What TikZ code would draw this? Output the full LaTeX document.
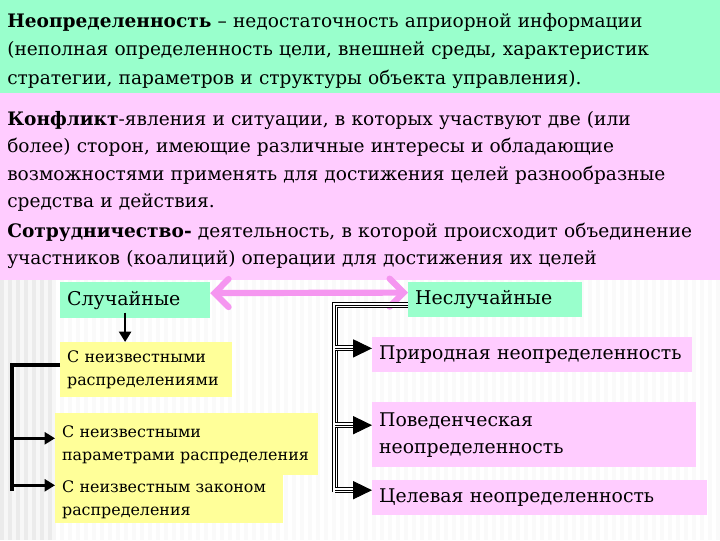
\documentclass[tikz,border=0pt]{standalone}
\usepackage{fontspec}
\setmainfont{DejaVu Serif}
\usepackage{tikz}
\usetikzlibrary{positioning, arrows.meta, calc}
\definecolor{mint}{RGB}{153, 255, 204}
\definecolor{lilac}{RGB}{255, 204, 255}
\definecolor{lemon}{RGB}{255, 255, 153}
\definecolor{arrpink}{RGB}{245, 150, 240}
\tikzset{
  txt/.style={anchor=base west, inner sep=0pt, align=left, text width=19cm,
    font=\fontsize{13.2}{20.6}\selectfont},
  kind/.style={fill=mint, anchor=north west, inner xsep=0.17cm,
    inner ysep=0pt, align=left, font=\fontsize{13.5}{19}\selectfont},
  yel/.style={fill=lemon, anchor=north west, inner xsep=0.17cm,
    inner ysep=0pt, align=left, font=\fontsize{11.3}{16.4}\selectfont},
  pnk/.style={fill=lilac, anchor=north west, inner xsep=0.17cm,
    inner ysep=0pt, align=left, font=\fontsize{13.4}{19}\selectfont},
  brk/.style={draw=black, line width=2.8pt},
  btip/.style={-{Triangle[length=0.26cm, width=0.3cm]}, line width=1.8pt},
  bigtip/.style={-{Triangle[length=0.47cm, width=0.45cm]}, line width=0.7pt},
  tline/.style={line width=0.7pt, preaction={draw, line width=4.3pt},
    preaction={draw=white, line width=2.9pt}},
  twoway/.style={draw=arrpink, line width=4.4pt, line cap=round,
    {Straight Barb[length=0.35cm, width=0.7cm, line cap=round]}-{Straight Barb[length=0.35cm, width=0.7cm, line cap=round]}},
}

\begin{document}
\begin{tikzpicture}[x=0.025cm, y=-0.025cm]
\useasboundingbox (0,0) rectangle (720,540);

% panels
\fill[mint] (0,0) rectangle (720,93);
\fill[lilac] (0,93) rectangle (720,280);
\fill[gray!4] (0,280) rectangle (720,540);
\foreach \x in {0,8,...,712}
  \fill[white] (\x,280) rectangle (\x+4,540);
\fill[gray!16] (0,280) rectangle (55,540);
\foreach \x in {0,8,...,48}
  \fill[gray!6] (\x+4,280) rectangle (\x+8,540);

% definitions
\node[txt] (uncert) at (7,27) {\textbf{Неопределенность} – недостаточность априорной информации\\
(неполная определенность цели, внешней среды, характеристик\\
стратегии, параметров и структуры объекта управления).};
\node[txt, font=\fontsize{13.2}{19.6}\selectfont] (confl) at (7,125) {\textbf{Конфликт}-явления и ситуации, в которых участвуют две (или\\
более) сторон, имеющие различные интересы и обладающие\\
возможностями применять для достижения целей разнообразные\\
средства и действия.};
\node[txt, font=\fontsize{13.2}{19.9}\selectfont] (coop) at (7,237) {\textbf{Сотрудничество-} деятельность, в которой происходит объединение\\
участников (коалиций) операции для достижения их целей};

% kinds
\node[kind, text width=3.4cm, minimum height=0.9cm] (rand) at (60,282) {Случайные};
\node[kind, text width=4.0cm, minimum height=0.875cm] (nonrand) at (408,282) {Неслучайные};

\node[yel, text width=3.95cm, minimum height=1.375cm] (y1) at (60,342) {С неизвестными\\распределениями};
\node[yel, text width=6.225cm, minimum height=1.55cm] (y2) at (55,413) {С неизвестными\\параметрами распределения};
\node[yel, text width=5.35cm, minimum height=1.2cm] (y3) at (55,475) {С неизвестным законом\\распределения};

\node[pnk, text width=7.65cm, minimum height=0.875cm] (p1) at (372,337) {Природная неопределенность};
\node[pnk, text width=7.75cm, minimum height=1.625cm, font=\fontsize{13.4}{19.2}\selectfont] (p2) at (372,402) {Поведенческая\\неопределенность};
\node[pnk, text width=8.025cm, minimum height=0.875cm] (p3) at (372,480) {Целевая неопределенность};

% connectors
\draw[twoway] ([yshift=0.18cm]rand.east) -- ([yshift=0.18cm]nonrand.west);

\coordinate (dn) at ([xshift=-0.25cm]rand.south);
\draw[btip] ([yshift=0.15cm]dn) -- (dn |- y1.north);

\coordinate (lbot) at (12,491);
\coordinate (y2in) at ([yshift=0.15cm]y2.west);
\coordinate (y3in) at ([yshift=0.35cm]y3.west);
\draw[brk] ([yshift=0.11cm]y1.west) -| (lbot);
\draw[brk, btip] (lbot |- y2in) -- (y2in);
\draw[brk, btip] (lbot |- y3in) -- (y3in);

\coordinate (rbot) at (335,492);
\draw[tline] ([yshift=-0.14cm]nonrand.west) -| (rbot);
\foreach \p/\s in {p1/0.16, p2/0.24, p3/0.19} {
  \coordinate (\p in) at ([yshift=\s cm]\p.west);
  \draw[tline] (rbot |- \p in) -- ([xshift=-0.47cm]\p in);
  \draw[bigtip] ([xshift=-0.47cm]\p in) -- (\p in);
}

\end{tikzpicture}
\end{document}
